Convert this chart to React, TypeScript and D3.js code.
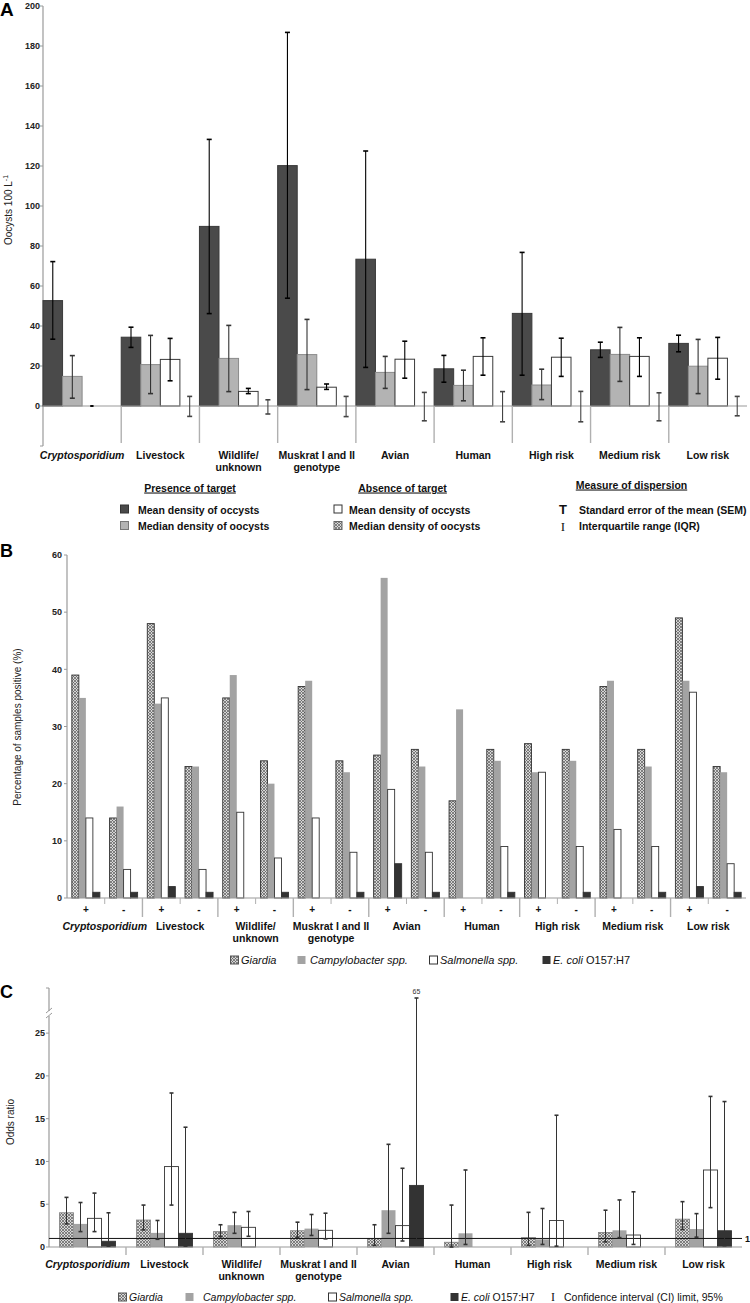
import React from "react";
import * as d3 from "d3";

// ---------- shared categories ----------
const groupLines: string[][] = [
  ["Cryptosporidium"],
  ["Livestock"],
  ["Wildlife/", "unknown"],
  ["Muskrat I and II", "genotype"],
  ["Avian"],
  ["Human"],
  ["High risk"],
  ["Medium risk"],
  ["Low risk"],
];
const groupItalic = [true, false, false, false, false, false, false, false, false];

// ---------- Panel A data ----------
const meanPresence = [52.7, 34.4, 89.8, 120.2, 73.4, 18.6, 46.3, 28.1, 31.3];
const meanPresenceLo = [33.4, 29.3, 46.2, 53.9, 19.3, 11.9, 15.4, 24.3, 27.1];
const meanPresenceHi = [72.2, 39.4, 133.3, 186.8, 127.5, 25.3, 76.8, 31.9, 35.4];
const medianPresence = [14.8, 20.7, 23.8, 25.7, 16.8, 10.3, 10.5, 25.8, 19.9];
const medianPresenceLo = [3.9, 6.2, 7.2, 8.2, 8.8, 2.6, 3.2, 12.3, 6.2];
const medianPresenceHi = [25.2, 35.3, 40.3, 43.3, 24.8, 17.9, 18.4, 39.3, 33.3];
const meanAbsence = [0, 23.3, 7.3, 9.4, 23.4, 24.8, 24.4, 24.8, 23.9];
const meanAbsenceLo = [0, 12.6, 6.2, 8.3, 13.9, 15.4, 14.8, 14.8, 13.4];
const meanAbsenceHi = [0, 33.8, 8.8, 11.0, 32.4, 34.1, 33.9, 34.1, 34.3];
const medianAbsence = [null, 0, 0, 0, 0, 0, 0, 0, 0];
const medianAbsenceLo = [null, -5.2, -4.0, -5.3, -7.4, -7.9, -7.9, -7.4, -4.9];
const medianAbsenceHi = [null, 4.8, 3.1, 4.8, 6.8, 7.2, 7.3, 6.6, 4.8];
const ticksA = [-20, 0, 20, 40, 60, 80, 100, 120, 140, 160, 180, 200];

// ---------- Panel B data (pairs: +, - per group) ----------
const signs = ["+", "-"];
const giardiaPct = [39, 14, 48, 23, 35, 24, 37, 24, 25, 26, 17, 26, 27, 26, 37, 26, 49, 23];
const campyPct = [35, 16, 34, 23, 39, 20, 38, 22, 56, 23, 33, 24, 22, 24, 38, 23, 38, 22];
const salmPct = [14, 5, 35, 5, 15, 7, 14, 8, 19, 8, 0, 9, 22, 9, 12, 9, 36, 6];
const ecoliPct = [1, 1, 2, 1, 0, 1, 0, 1, 6, 1, 0, 1, 0, 1, 0, 1, 2, 1];
const ticksB = [0, 10, 20, 30, 40, 50, 60];

// ---------- Panel C data ----------
const giardiaOR = [4.0, 3.15, 1.8, 1.9, 1.0, 0.55, 1.1, 1.7, 3.25];
const giardiaLo = [2.7, 2.0, 1.2, 1.15, 0.2, 0.0, 0.2, 0.6, 2.05];
const giardiaHi = [5.8, 4.9, 2.6, 2.9, 2.6, 4.9, 4.05, 4.3, 5.3];
const campyOR = [2.7, 1.65, 2.55, 2.15, 4.3, 1.6, 0.9, 1.95, 2.1];
const campyLo = [1.8, 0.9, 1.6, 1.35, 1.6, 0.3, 0.3, 1.1, 1.15];
const campyHi = [5.2, 3.1, 4.05, 3.8, 12.0, 9.0, 4.5, 5.5, 3.9];
const salmOR = [3.35, 9.4, 2.3, 1.95, 2.5, null, 3.1, 1.4, 9.0];
const salmLo = [1.8, 4.9, 1.25, 0.95, 0.7, null, 0.1, 0.3, 4.6];
const salmHi = [6.3, 18.0, 4.15, 3.95, 9.2, null, 15.4, 6.45, 17.6];
const ecoliOR = [0.67, 1.6, null, null, 7.2, null, null, null, 1.9];
const ecoliLo = [0.1, 0.1, null, null, 0.8, null, null, null, 0.15];
const ecoliHi = [4.0, 14.0, null, null, 65, null, null, null, 17.0];
const ticksC = [0, 5, 10, 15, 20, 25];

const FONT = "'Liberation Sans', Arial, Helvetica, sans-serif";
const SERIF = "'Liberation Serif', 'DejaVu Serif', serif";
const AXIS = "#9a9a9a";

function ErrBar({ x, y1, y2, color, cap = 2.5, w = 1.1 }: any) {
  return (
    <g stroke={color} strokeWidth={w}>
      <line x1={x} x2={x} y1={y1} y2={y2} />
      <line x1={x - cap} x2={x + cap} y1={y1} y2={y1} strokeWidth={1.6} />
      <line x1={x - cap} x2={x + cap} y1={y2} y2={y2} strokeWidth={1.6} />
    </g>
  );
}

function GroupLabel({ x, y, lines, italic, size = 10.5, lh = 12 }: any) {
  return (
    <text x={x} y={y} textAnchor="middle" fontFamily={FONT} fontSize={size} fontWeight="bold" fontStyle={italic ? "italic" : "normal"} fill="#111">
      {lines.map((l: string, i: number) => (
        <tspan key={i} x={x} dy={i === 0 ? 0 : lh}>{l}</tspan>
      ))}
    </text>
  );
}

function PanelA() {
  const idx = d3.range(groupLines.length);
  const x = d3.scaleBand<number>().domain(idx).range([43, 747]).padding(0);
  const sub = d3.scaleBand<string>().domain(["mp", "mdp", "ma", "mda"]).range([0, x.bandwidth()]);
  const y = d3.scaleLinear().domain([-20, 200]).range([446, 6]);
  const series = [
    { k: "mp", v: meanPresence, lo: meanPresenceLo, hi: meanPresenceHi, fill: "#4a4a4a", stroke: "#3a3a3a", err: "#000" },
    { k: "mdp", v: medianPresence, lo: medianPresenceLo, hi: medianPresenceHi, fill: "#b3b3b3", stroke: "#8a8a8a", err: "#333" },
    { k: "ma", v: meanAbsence, lo: meanAbsenceLo, hi: meanAbsenceHi, fill: "#fff", stroke: "#3a3a3a", err: "#000" },
    { k: "mda", v: medianAbsence, lo: medianAbsenceLo, hi: medianAbsenceHi, fill: "url(#hatch)", stroke: "#555", err: "#444" },
  ];
  return (
    <g>
      <text x={0} y={16} fontFamily={FONT} fontSize={19} fontWeight="bold">A</text>
      {/* axis */}
      <line x1={43} x2={43} y1={y(200)} y2={y(-20)} stroke={AXIS} strokeWidth={1.2} />
      {ticksA.map((t) => (
        <g key={t}>
          <line x1={40} x2={43} y1={y(t)} y2={y(t)} stroke={AXIS} />
          {t >= 0 && (
            <text x={40} y={y(t) + 3.2} textAnchor="end" fontFamily={FONT} fontSize={9} fontWeight="bold" fill="#222">{t}</text>
          )}
        </g>
      ))}
      <text transform={`translate(12,210) rotate(-90)`} textAnchor="middle" fontFamily={FONT} fontSize={10} fill="#222">
        Oocysts 100 L<tspan dy={-4} fontSize={7}>-1</tspan>
      </text>
      {/* bars */}
      {idx.map((g) =>
        series.map((s) => {
          const v = s.v[g];
          if (v === null || v === undefined) return null;
          const bx = (x(g) as number) + (sub(s.k) as number);
          const bw = sub.bandwidth();
          return (
            <rect key={s.k + g} x={bx} width={bw} y={y(Math.max(v, 0))} height={Math.abs(y(v) - y(0))} fill={s.fill} stroke={v > 0 ? s.stroke : "none"} strokeWidth={1} />
          );
        })
      )}
      <line x1={43} x2={747} y1={y(0)} y2={y(0)} stroke={AXIS} strokeWidth={1.2} />
      {idx.slice(1).map((g) => (
        <line key={g} x1={x(g)} x2={x(g)} y1={y(0)} y2={y(-18.5)} stroke="#b0b0b0" strokeWidth={1.4} />
      ))}
      {idx.map((g) =>
        series.map((s) => {
          const lo = s.lo[g];
          const hi = s.hi[g];
          if (lo === null || hi === null || lo === undefined) return null;
          const cx = (x(g) as number) + (sub(s.k) as number) + sub.bandwidth() / 2;
          return <ErrBar key={"e" + s.k + g} x={cx} y1={y(hi)} y2={y(lo)} color={s.err} cap={lo === hi ? 1.5 : 2.5} />;
        })
      )}
      {idx.map((g) => (
        <GroupLabel key={g} x={(x(g) as number) + x.bandwidth() / 2} y={459} lines={groupLines[g]} italic={groupItalic[g]} />
      ))}
      {/* legend */}
      <g fontFamily={FONT} fontSize={10.5} fontWeight="bold" fill="#111">
        <text x={190} y={491.5} textAnchor="middle" textDecoration="underline">Presence of target</text>
        <rect x={120.5} y={505} width={8} height={8} fill="#4a4a4a" stroke="#333" />
        <text x={138} y={513.5}>Mean density of occysts</text>
        <rect x={120.5} y={521.5} width={8} height={8} fill="#b3b3b3" stroke="#777" />
        <text x={138} y={530}>Median density of oocysts</text>

        <text x={402.5} y={491.5} textAnchor="middle" textDecoration="underline">Absence of target</text>
        <rect x={334} y={505} width={8} height={8} fill="#fff" stroke="#333" />
        <text x={349} y={513.5}>Mean density of occysts</text>
        <rect x={334} y={521.5} width={8} height={8} fill="url(#hatch)" stroke="#666" />
        <text x={349} y={530}>Median density of oocysts</text>

        <text x={631.5} y={488.5} textAnchor="middle" textDecoration="underline">Measure of dispersion</text>
        <text x={563} y={514} textAnchor="middle" fontSize={13}>T</text>
        <text x={579} y={513.5}>Standard error of the mean (SEM)</text>
        <text x={563} y={530.5} textAnchor="middle" fontSize={13} fontWeight="normal" fontFamily={SERIF}>I</text>
        <text x={579} y={530}>Interquartile range (IQR)</text>
      </g>
    </g>
  );
}

function PanelB() {
  const idx = d3.range(groupLines.length);
  const x = d3.scaleBand<number>().domain(idx).range([67, 746]).padding(0);
  const sub = d3.scaleBand<string>().domain(signs).range([0, x.bandwidth()]);
  const ser = d3.scaleBand<string>().domain(["g", "c", "s", "e"]).range([0, sub.bandwidth()]).paddingInner(0).paddingOuter(0.69);
  const y = d3.scaleLinear().domain([0, 60]).range([898, 555]);
  const series = [
    { k: "g", v: giardiaPct, fill: "url(#hatch)", stroke: "#333" },
    { k: "c", v: campyPct, fill: "#a3a3a3", stroke: "none" },
    { k: "s", v: salmPct, fill: "#fff", stroke: "#333" },
    { k: "e", v: ecoliPct, fill: "#333", stroke: "#333" },
  ];
  return (
    <g>
      <text x={0} y={557} fontFamily={FONT} fontSize={18} fontWeight="bold">B</text>
      <line x1={67} x2={67} y1={y(60)} y2={y(0)} stroke={AXIS} strokeWidth={1.2} />
      {ticksB.map((t) => (
        <g key={t}>
          <line x1={64} x2={67} y1={y(t)} y2={y(t)} stroke={AXIS} />
          <text x={62} y={y(t) + 3.2} textAnchor="end" fontFamily={FONT} fontSize={9} fontWeight="bold" fill="#222">{t}</text>
        </g>
      ))}
      <text transform={`translate(21,727) rotate(-90)`} textAnchor="middle" fontFamily={FONT} fontSize={10} fill="#222">
        Percentage of samples positive (%)
      </text>
      {idx.map((g) =>
        signs.map((sg, si) =>
          series.map((s) => {
            const v = s.v[g * 2 + si];
            if (!v) return null;
            const bx = (x(g) as number) + (sub(sg) as number) + (ser(s.k) as number);
            return <rect key={s.k + g + sg} x={bx} width={ser.bandwidth()} y={y(v)} height={y(0) - y(v)} fill={s.fill} stroke={s.stroke} strokeWidth={0.9} />;
          })
        )
      )}
      <line x1={67} x2={746} y1={y(0)} y2={y(0)} stroke={AXIS} strokeWidth={1.2} />
      {idx.map((g) => (
        <g key={g}>
          {g > 0 && <line x1={x(g)} x2={x(g)} y1={y(0)} y2={917} stroke="#b0b0b0" strokeWidth={1.4} />}
          <line x1={(x(g) as number) + (sub("-") as number)} x2={(x(g) as number) + (sub("-") as number)} y1={y(0)} y2={904} stroke="#b0b0b0" />
          {signs.map((sg) => (
            <text key={sg} x={(x(g) as number) + (sub(sg) as number) + sub.bandwidth() / 2} y={913} textAnchor="middle" fontFamily={FONT} fontSize={10} fontWeight="bold" fill="#111">{sg}</text>
          ))}
          <GroupLabel x={(x(g) as number) + x.bandwidth() / 2} y={930} lines={groupLines[g]} italic={groupItalic[g]} />
        </g>
      ))}
      <g fontFamily={FONT} fontSize={11} fill="#111">
        <rect x={230.5} y={956} width={8} height={8} fill="url(#hatch)" stroke="#555" />
        <text x={241} y={964} fontStyle="italic">Giardia</text>
        <rect x={297.5} y={956} width={8} height={8} fill="#a3a3a3" />
        <text x={310} y={964} fontStyle="italic">Campylobacter spp.</text>
        <rect x={429.5} y={956} width={8} height={8} fill="#fff" stroke="#333" />
        <text x={440} y={964} fontStyle="italic">Salmonella spp.</text>
        <rect x={542.5} y={956} width={8} height={8} fill="#333" />
        <text x={553} y={964}><tspan fontStyle="italic">E. coli</tspan> O157:H7</text>
      </g>
    </g>
  );
}

function PanelC() {
  const idx = d3.range(groupLines.length);
  const x = d3.scaleBand<number>().domain(idx).range([49, 742]).padding(0);
  const ser = d3.scaleBand<string>().domain(["g", "c", "s", "e"]).range([0, x.bandwidth()]).paddingInner(0).paddingOuter(0.75);
  const y = d3.scaleLinear().domain([0, 27, 65]).range([1247, 1016, 998]);
  const series = [
    { k: "g", v: giardiaOR, lo: giardiaLo, hi: giardiaHi, fill: "url(#hatch)", stroke: "#888" },
    { k: "c", v: campyOR, lo: campyLo, hi: campyHi, fill: "#a3a3a3", stroke: "none" },
    { k: "s", v: salmOR, lo: salmLo, hi: salmHi, fill: "#fff", stroke: "#333" },
    { k: "e", v: ecoliOR, lo: ecoliLo, hi: ecoliHi, fill: "#333", stroke: "#333" },
  ];
  return (
    <g>
      <text x={0} y={998} fontFamily={FONT} fontSize={18} fontWeight="bold">C</text>
      <line x1={49} x2={49} y1={988} y2={1011} stroke={AXIS} strokeWidth={1.2} />
      <line x1={49} x2={49} y1={1016} y2={y(0)} stroke={AXIS} strokeWidth={1.2} />
      <line x1={46} x2={52} y1={1013} y2={1008} stroke={AXIS} />
      <line x1={46} x2={52} y1={1018} y2={1013} stroke={AXIS} />
      <line x1={46} x2={49} y1={988} y2={988} stroke={AXIS} />
      {ticksC.map((t) => (
        <g key={t}>
          <line x1={46} x2={49} y1={y(t)} y2={y(t)} stroke={AXIS} />
          <text x={45} y={y(t) + 3.2} textAnchor="end" fontFamily={FONT} fontSize={9} fontWeight="bold" fill="#222">{t}</text>
        </g>
      ))}
      <text transform={`translate(14,1122) rotate(-90)`} textAnchor="middle" fontFamily={FONT} fontSize={10} fill="#222">Odds ratio</text>
      {idx.map((g) =>
        series.map((s) => {
          const v = s.v[g];
          if (v === null || v === undefined) return null;
          const bx = (x(g) as number) + (ser(s.k) as number);
          return <rect key={s.k + g} x={bx} width={ser.bandwidth()} y={y(v)} height={y(0) - y(v)} fill={s.fill} stroke={s.stroke} strokeWidth={0.9} />;
        })
      )}
      <line x1={49} x2={742} y1={y(0)} y2={y(0)} stroke={AXIS} strokeWidth={1.2} />
      <line x1={49} x2={742} y1={y(1)} y2={y(1)} stroke="#111" strokeWidth={1} />
      <text x={745} y={y(1) + 3.5} fontFamily={FONT} fontSize={9} fontWeight="bold" fill="#111">1</text>
      {idx.map((g) =>
        series.map((s) => {
          const lo = s.lo[g];
          const hi = s.hi[g];
          if (lo === null || hi === null || lo === undefined) return null;
          const cx = (x(g) as number) + (ser(s.k) as number) + ser.bandwidth() / 2;
          return (
            <g key={"e" + s.k + g}>
              <ErrBar x={cx} y1={y(hi)} y2={y(lo)} color="#333" cap={2} w={1} />
              {hi > 27 && (
                <text x={cx} y={y(hi) - 4} textAnchor="middle" fontFamily={FONT} fontSize={7} fill="#333">{hi}</text>
              )}
            </g>
          );
        })
      )}
      {idx.map((g) => (
        <g key={g}>
          {g > 0 && <line x1={x(g)} x2={x(g)} y1={y(0)} y2={1255} stroke="#b0b0b0" strokeWidth={1.4} />}
          <GroupLabel x={(x(g) as number) + x.bandwidth() / 2} y={1268} lines={groupLines[g]} italic={groupItalic[g]} />
        </g>
      ))}
      <g fontFamily={FONT} fontSize={10.5} fill="#111">
        <rect x={118.5} y={1293} width={8} height={8} fill="url(#hatch)" stroke="#555" />
        <text x={129} y={1301} fontStyle="italic">Giardia</text>
        <rect x={185.5} y={1293} width={8} height={8} fill="#a3a3a3" />
        <text x={203} y={1301} fontStyle="italic">Campylobacter spp.</text>
        <rect x={328.5} y={1293} width={8} height={8} fill="#fff" stroke="#333" />
        <text x={339} y={1301} fontStyle="italic">Salmonella spp.</text>
        <rect x={450.5} y={1293} width={8} height={8} fill="#333" />
        <text x={461} y={1301}><tspan fontStyle="italic">E. coli</tspan> O157:H7</text>
        <text x={553} y={1301} textAnchor="middle" fontFamily={SERIF} fontSize={12}>I</text>
        <text x={564} y={1301}>Confidence interval (CI) limit, 95%</text>
      </g>
    </g>
  );
}

export default function App() {
  return (
    <svg width={750} height={1303} viewBox="0 0 750 1303" style={{ position: "absolute", left: 0, top: 0, background: "#fff" }}>
      <defs>
        <pattern id="hatch" width={3} height={3} patternUnits="userSpaceOnUse">
          <rect width={3} height={3} fill="#d6d6d6" />
          <path d="M0,0L3,3M0,3L3,0" stroke="#5a5a5a" strokeWidth={0.7} />
        </pattern>
      </defs>
      <rect width={750} height={1303} fill="#fff" />
      <PanelA />
      <PanelB />
      <PanelC />
    </svg>
  );
}
